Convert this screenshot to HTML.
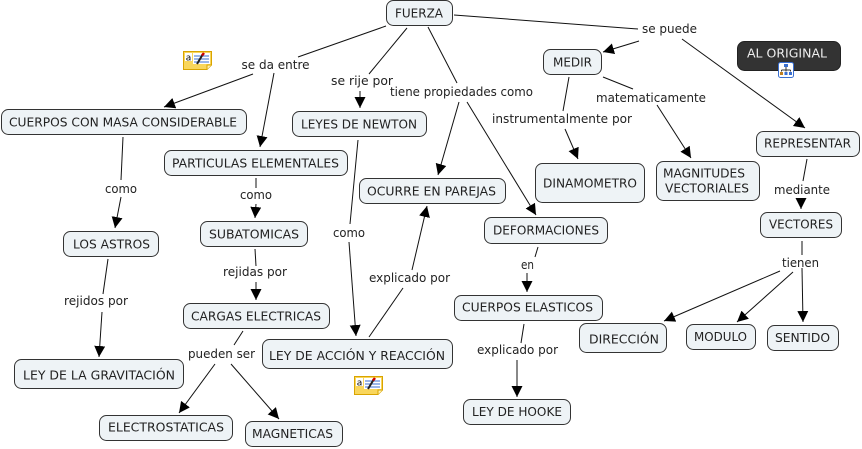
<!DOCTYPE html>
<html><head><meta charset="utf-8"><style>
html,body{margin:0;padding:0;background:#fff;}
svg{display:block;}
text{font-family:"DejaVu Sans","Liberation Sans",sans-serif;font-size:12px;fill:#222;}
.n{fill:#eef3f6;stroke:#333;stroke-width:1;}
.e{stroke:#111;stroke-width:1;fill:none;}
</style></head><body>
<svg width="862" height="449" viewBox="0 0 862 449" xmlns="http://www.w3.org/2000/svg">
<defs>
<marker id="a" markerUnits="userSpaceOnUse" markerWidth="12" markerHeight="11" refX="11" refY="5.5" orient="auto">
<path d="M0,0 L11,5.5 L0,11 z" fill="#000"/>
</marker>
</defs>

<!-- edges -->
<g class="e">
<line x1="386" y1="26" x2="298" y2="57"/>
<line x1="253" y1="74" x2="164" y2="107" marker-end="url(#a)"/>
<line x1="274" y1="73" x2="260" y2="147" marker-end="url(#a)"/>
<line x1="407" y1="28" x2="369" y2="74"/>
<line x1="360" y1="91" x2="360" y2="108" marker-end="url(#a)"/>
<line x1="428" y1="27" x2="457" y2="83"/>
<line x1="459" y1="102" x2="438" y2="175" marker-end="url(#a)"/>
<line x1="467" y1="102" x2="536" y2="215" marker-end="url(#a)"/>
<line x1="454" y1="15" x2="638" y2="29"/>
<line x1="639" y1="41" x2="603" y2="52" marker-end="url(#a)"/>
<line x1="682" y1="39" x2="805" y2="128" marker-end="url(#a)"/>
<line x1="569" y1="77" x2="563" y2="111"/>
<line x1="565" y1="129" x2="578" y2="159" marker-end="url(#a)"/>
<line x1="603" y1="77" x2="633" y2="89"/>
<line x1="657" y1="105" x2="691" y2="158" marker-end="url(#a)"/>
<line x1="807" y1="159" x2="803" y2="181"/>
<line x1="801" y1="198" x2="801" y2="209" marker-end="url(#a)"/>
<line x1="123" y1="137" x2="121" y2="180"/>
<line x1="121" y1="197" x2="115" y2="228" marker-end="url(#a)"/>
<line x1="256" y1="178" x2="256" y2="188"/>
<line x1="256" y1="204" x2="255" y2="218" marker-end="url(#a)"/>
<line x1="358" y1="140" x2="350" y2="224"/>
<line x1="349" y1="242" x2="356" y2="336" marker-end="url(#a)"/>
<line x1="369" y1="337" x2="403" y2="288"/>
<line x1="412" y1="270" x2="427" y2="206" marker-end="url(#a)"/>
<line x1="108" y1="259" x2="103" y2="294"/>
<line x1="102" y1="312" x2="99" y2="357" marker-end="url(#a)"/>
<line x1="255" y1="249" x2="256" y2="266"/>
<line x1="256" y1="282" x2="256" y2="300" marker-end="url(#a)"/>
<line x1="243" y1="331" x2="234" y2="345"/>
<line x1="215" y1="364" x2="179" y2="413" marker-end="url(#a)"/>
<line x1="231" y1="364" x2="279" y2="419" marker-end="url(#a)"/>
<line x1="538" y1="247" x2="535" y2="257"/>
<line x1="527" y1="273" x2="527" y2="292" marker-end="url(#a)"/>
<line x1="524" y1="324" x2="521" y2="343"/>
<line x1="517" y1="360" x2="517" y2="397" marker-end="url(#a)"/>
<line x1="802" y1="241" x2="802" y2="255"/>
<line x1="780" y1="271" x2="664" y2="321" marker-end="url(#a)"/>
<line x1="793" y1="272" x2="737" y2="322" marker-end="url(#a)"/>
<line x1="802" y1="268" x2="803" y2="322" marker-end="url(#a)"/>
</g>

<!-- nodes -->
<g>
<rect class="n" x="386.5" y="0.5" width="66" height="25" rx="7"/>
<rect class="n" x="1.5" y="109.5" width="245" height="25" rx="7"/>
<rect class="n" x="164.5" y="150.5" width="183" height="25" rx="7"/>
<rect class="n" x="292.5" y="111.5" width="134" height="25" rx="7"/>
<rect class="n" x="359.5" y="178.5" width="146" height="25" rx="7"/>
<rect class="n" x="200.5" y="221.5" width="107" height="25" rx="7"/>
<rect class="n" x="63.5" y="231.5" width="95" height="25" rx="7"/>
<rect class="n" x="183.5" y="303.5" width="146" height="25" rx="7"/>
<rect class="n" x="14.5" y="359.5" width="169" height="29" rx="7"/>
<rect class="n" x="262.5" y="339.5" width="190" height="29" rx="7"/>
<rect class="n" x="99.5" y="415.5" width="133" height="25" rx="7"/>
<rect class="n" x="245.5" y="421.5" width="97" height="25" rx="7"/>
<rect class="n" x="543.5" y="49.5" width="58" height="25" rx="7"/>
<rect x="737.5" y="41.5" width="103" height="29" rx="7" fill="#333" stroke="#222"/>
<rect class="n" x="535.5" y="163.5" width="109" height="39" rx="7"/>
<rect class="n" x="656.5" y="161.5" width="103" height="39" rx="7"/>
<rect class="n" x="756.5" y="131.5" width="103" height="25" rx="7"/>
<rect class="n" x="760.5" y="212.5" width="81" height="25" rx="7"/>
<rect class="n" x="484.5" y="217.5" width="123" height="26" rx="7"/>
<rect class="n" x="454.5" y="295.5" width="148" height="25" rx="7"/>
<rect class="n" x="579.5" y="323.5" width="87" height="29" rx="7"/>
<rect class="n" x="686.5" y="324.5" width="69" height="25" rx="7"/>
<rect class="n" x="767.5" y="325.5" width="71" height="25" rx="7"/>
<rect class="n" x="463.5" y="399.5" width="107" height="25" rx="7"/>
</g>

<!-- node text -->
<g text-anchor="middle" lengthAdjust="spacingAndGlyphs">
<text x="419" y="17.5" textLength="48" lengthAdjust="spacingAndGlyphs">FUERZA</text>
<text x="123" y="126.5" textLength="228" lengthAdjust="spacingAndGlyphs">CUERPOS CON MASA CONSIDERABLE</text>
<text x="255.5" y="167.5" textLength="167" lengthAdjust="spacingAndGlyphs">PARTICULAS ELEMENTALES</text>
<text x="359" y="128.5" textLength="116" lengthAdjust="spacingAndGlyphs">LEYES DE NEWTON</text>
<text x="431.5" y="195.5" textLength="129" lengthAdjust="spacingAndGlyphs">OCURRE EN PAREJAS</text>
<text x="254" y="238.5" textLength="90" lengthAdjust="spacingAndGlyphs">SUBATOMICAS</text>
<text x="111.5" y="248.5" textLength="77" lengthAdjust="spacingAndGlyphs">LOS ASTROS</text>
<text x="256" y="320.5" textLength="130" lengthAdjust="spacingAndGlyphs">CARGAS ELECTRICAS</text>
<text x="99" y="379.5" textLength="152" lengthAdjust="spacingAndGlyphs">LEY DE LA GRAVITACIÓN</text>
<text x="357" y="360" textLength="176" lengthAdjust="spacingAndGlyphs">LEY DE ACCIÓN Y REACCIÓN</text>
<text x="166" y="431.5" textLength="116" lengthAdjust="spacingAndGlyphs">ELECTROSTATICAS</text>
<text x="292.5" y="438" textLength="81" lengthAdjust="spacingAndGlyphs">MAGNETICAS</text>
<text x="572.5" y="66.5" textLength="39" lengthAdjust="spacingAndGlyphs">MEDIR</text>
<text x="787" y="57.5" textLength="80" lengthAdjust="spacingAndGlyphs" style="fill:#eee">AL ORIGINAL</text>
<text x="590" y="187.5" textLength="94" lengthAdjust="spacingAndGlyphs">DINAMOMETRO</text>
<text x="704" y="177.5" textLength="82" lengthAdjust="spacingAndGlyphs">MAGNITUDES</text>
<text x="707" y="192.5" textLength="84" lengthAdjust="spacingAndGlyphs">VECTORIALES</text>
<text x="807.5" y="147.5" textLength="87" lengthAdjust="spacingAndGlyphs">REPRESENTAR</text>
<text x="801" y="228.5" textLength="64" lengthAdjust="spacingAndGlyphs">VECTORES</text>
<text x="546" y="234.5" textLength="106" lengthAdjust="spacingAndGlyphs">DEFORMACIONES</text>
<text x="527.5" y="311.5" textLength="131" lengthAdjust="spacingAndGlyphs">CUERPOS ELASTICOS</text>
<text x="624" y="343.5" textLength="70" lengthAdjust="spacingAndGlyphs">DIRECCIÓN</text>
<text x="720.5" y="341" textLength="53" lengthAdjust="spacingAndGlyphs">MODULO</text>
<text x="802.5" y="342" textLength="55" lengthAdjust="spacingAndGlyphs">SENTIDO</text>
<text x="517" y="416" textLength="90" lengthAdjust="spacingAndGlyphs">LEY DE HOOKE</text>
</g>

<!-- link labels -->
<g text-anchor="middle">
<text x="275.5" y="69" textLength="68" lengthAdjust="spacingAndGlyphs">se da entre</text>
<text x="362" y="85" textLength="62" lengthAdjust="spacingAndGlyphs">se rije por</text>
<text x="461.5" y="96" textLength="143" lengthAdjust="spacingAndGlyphs">tiene propiedades como</text>
<text x="669.5" y="33" textLength="55" lengthAdjust="spacingAndGlyphs">se puede</text>
<text x="651" y="102" textLength="110" lengthAdjust="spacingAndGlyphs">matematicamente</text>
<text x="562" y="123" textLength="140" lengthAdjust="spacingAndGlyphs">instrumentalmente por</text>
<text x="802" y="194" textLength="56" lengthAdjust="spacingAndGlyphs">mediante</text>
<text x="121" y="193" textLength="32" lengthAdjust="spacingAndGlyphs">como</text>
<text x="256" y="199" textLength="32" lengthAdjust="spacingAndGlyphs">como</text>
<text x="349" y="237" textLength="32" lengthAdjust="spacingAndGlyphs">como</text>
<text x="255" y="276" textLength="64" lengthAdjust="spacingAndGlyphs">rejidas por</text>
<text x="96" y="305" textLength="64" lengthAdjust="spacingAndGlyphs">rejidos por</text>
<text x="409.5" y="282" textLength="81" lengthAdjust="spacingAndGlyphs">explicado por</text>
<text x="221.5" y="358" textLength="67" lengthAdjust="spacingAndGlyphs">pueden ser</text>
<text x="527.5" y="269" textLength="13" lengthAdjust="spacingAndGlyphs">en</text>
<text x="800.5" y="267" textLength="37" lengthAdjust="spacingAndGlyphs">tienen</text>
<text x="517.5" y="354" textLength="81" lengthAdjust="spacingAndGlyphs">explicado por</text>
</g>

<!-- note icons -->
<g id="note1">
<path d="M183.5,51.5 H211.5 V65 L207,69.5 H183.5 Z" fill="#f9d65c" stroke="#d9a400"/>
<path d="M207,69.5 V65 H211.5" fill="#fff2b0" stroke="#d9a400"/>
<rect x="185" y="53" width="7" height="8" fill="#fff"/>
<text x="188.5" y="60.5" text-anchor="middle" style="font-size:9px;fill:#000">a</text>
<rect x="193" y="53" width="17" height="11" fill="#fff"/>
<g stroke="#3a6fd0" stroke-width="1"><line x1="194" y1="56" x2="209" y2="56"/><line x1="194" y1="59" x2="209" y2="59"/><line x1="194" y1="62" x2="209" y2="62"/></g>
<line x1="197" y1="64" x2="203" y2="54" stroke="#222" stroke-width="2"/>
<line x1="202" y1="55.5" x2="204" y2="53" stroke="#c00" stroke-width="2.5"/>
</g>
<g transform="translate(171,325)">
<path d="M183.5,51.5 H211.5 V65 L207,69.5 H183.5 Z" fill="#f9d65c" stroke="#d9a400"/>
<path d="M207,69.5 V65 H211.5" fill="#fff2b0" stroke="#d9a400"/>
<rect x="185" y="53" width="7" height="8" fill="#fff"/>
<text x="188.5" y="60.5" text-anchor="middle" style="font-size:9px;fill:#000">a</text>
<rect x="193" y="53" width="17" height="11" fill="#fff"/>
<g stroke="#3a6fd0" stroke-width="1"><line x1="194" y1="56" x2="209" y2="56"/><line x1="194" y1="59" x2="209" y2="59"/><line x1="194" y1="62" x2="209" y2="62"/></g>
<line x1="197" y1="64" x2="203" y2="54" stroke="#222" stroke-width="2"/>
<line x1="202" y1="55.5" x2="204" y2="53" stroke="#c00" stroke-width="2.5"/>
</g>

<!-- concept map link icon -->
<g>
<rect x="778.5" y="62.5" width="15" height="15" rx="2" fill="#fff" stroke="#3a6fd0"/>
<rect x="784" y="64" width="4" height="3" fill="#3a6fd0"/>
<path d="M786,67 V69 M781.5,70 H790.5 M781.5,70 V71.5 M786,69 V71.5 M790.5,70 V71.5" stroke="#333" fill="none"/>
<rect x="780" y="72" width="3" height="3" fill="#c08020"/>
<rect x="784.5" y="72" width="3" height="3" fill="#3a6fd0"/>
<rect x="789" y="72" width="3" height="3" fill="#3a6fd0"/>
</g>
</svg>
</body></html>
